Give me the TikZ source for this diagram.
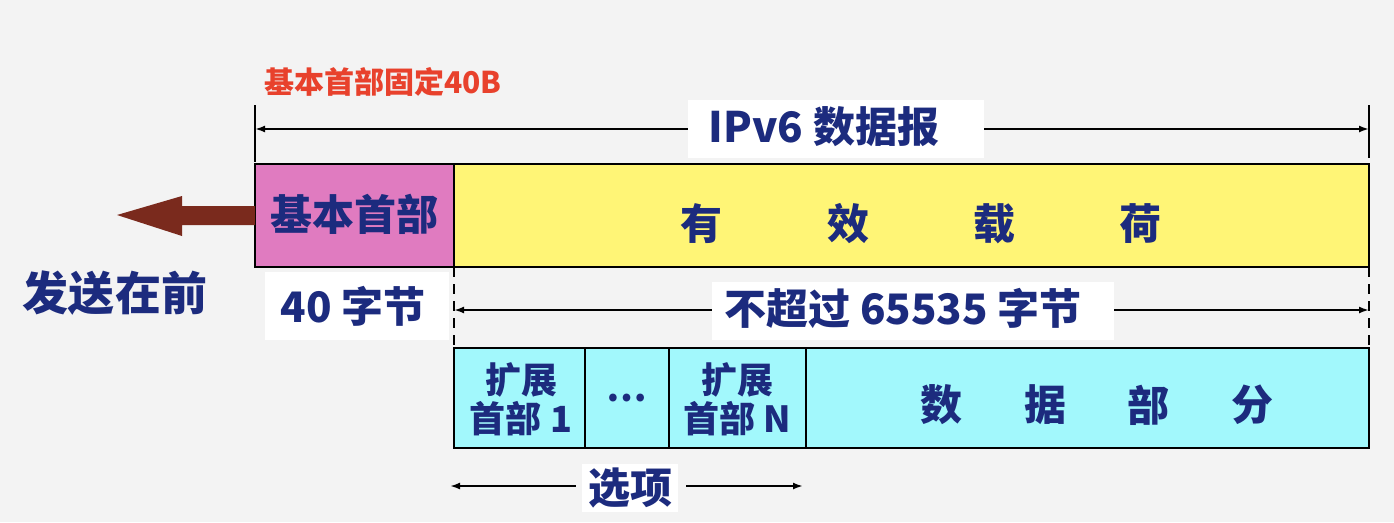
\documentclass[tikz,border=0pt]{standalone}
\usepackage{fontspec}
\newfontfamily\cjk{Noto Sans CJK SC}
\usetikzlibrary{arrows.meta}
\definecolor{bgc}{HTML}{F3F3F3}
\definecolor{ink}{HTML}{1C2B7E}
\definecolor{redt}{HTML}{E8412C}
\definecolor{pinkc}{HTML}{E07BC0}
\definecolor{yelc}{HTML}{FFF576}
\definecolor{cyanc}{HTML}{A2F8FC}
\definecolor{brownc}{HTML}{7A2A1D}
\tikzset{
  cell/.style={draw=black, line width=2pt, inner sep=0pt, outer sep=0pt},
  thincell/.style={draw=black, line width=1.3pt, inner sep=0pt, outer sep=0pt, fill=cyanc},
  bluetxt/.style={text=ink, font=\cjk\bfseries\fontsize{42}{48}\selectfont, inner sep=0pt},
  midtxt/.style={text=ink, font=\cjk\bfseries\fontsize{36}{39}\selectfont, inner sep=0pt, align=center},
  whitelabel/.style={fill=white, inner sep=0pt},
  dimline/.style={line width=2.2pt, {Latex[length=10pt,width=7pt]}-{Latex[length=10pt,width=7pt]}},
  oneway/.style={line width=2.2pt, -{Latex[length=10pt,width=7pt]}},
  tick/.style={line width=2.4pt},
  dashtick/.style={line width=2.4pt, dash pattern=on 10pt off 7pt},
}
\begin{document}
\begin{tikzpicture}[x=1pt,y=-1pt]
\fill[bgc] (0,0) rectangle (1394,522);
\useasboundingbox (0,0) rectangle (1394,522);

% red heading
\node[text=redt, font=\cjk\bfseries\fontsize{30}{34}\selectfont, inner sep=0pt] (head) at (383,82) {基本首部固定40B};

% top dimension
\coordinate (tl1) at (255,105); \coordinate (tl2) at (255,162);
\coordinate (tr1) at (1369,105); \coordinate (tr2) at (1369,158);
\coordinate (al) at (255,129); \coordinate (ar) at (1369,129);
\draw[tick] (tl1) -- (tl2);
\draw[tick] (tr1) -- (tr2);
\draw[dimline] (al) -- (ar);
\node[whitelabel, minimum width=296pt, minimum height=58pt] (ipv6lab) at (836,129) {};
\node[bluetxt] (ipv6) at (824,127) {IPv6 数据报};

% main row
\node[cell, fill=pinkc, minimum width=199pt, minimum height=103pt] (basic) at (354.5,215.5) {};
\node[cell, fill=yelc, minimum width=915pt, minimum height=103pt] (payload) at (911.5,215.5) {};
\node[bluetxt] (basictxt) at (354.5,214) {基本首部};
\node[bluetxt] (p1) at (701,224) {有};
\node[bluetxt] (p2) at (848,224) {效};
\node[bluetxt] (p3) at (994,224) {载};
\node[bluetxt] (p4) at (1140,224) {荷};

% brown arrow
\coordinate (bstart) at (basic.west);
\fill[brownc] (bstart |- 0,206) -- (182,206) -- (182,196) -- (117,215) -- (182,236) -- (182,225) -- (bstart |- 0,225) -- cycle;

\node[text=ink, font=\cjk\bfseries\fontsize{46}{52}\selectfont, inner sep=0pt] (sendfirst) at (115,293) {发送在前};

% 40 bytes
\node[whitelabel, minimum width=184pt, minimum height=68pt] (fortybox) at (357,306) {};
\node[bluetxt] (forty) at (353,306) {40 字节};

% middle dimension
\coordinate (ml1) at (454,267); \coordinate (ml2) at (454,348);
\coordinate (mr1) at (1369,267); \coordinate (mr2) at (1369,348);
\draw[dashtick] (ml1) -- (ml2);
\draw[dashtick] (mr1) -- (mr2);
\coordinate (bl) at (454,310); \coordinate (br) at (1369,310);
\draw[dimline] (bl) -- (br);
\node[whitelabel, minimum width=402pt, minimum height=58pt] (maxlab) at (913,311) {};
\node[bluetxt] (maxtxt) at (903,308) {不超过 65535 字节};

% cyan row
\node[thincell, minimum width=131pt, minimum height=100pt] (c1) at (519.5,398) {};
\node[thincell, minimum width=84pt, minimum height=100pt] (c2) at (627,398) {};
\node[thincell, minimum width=137pt, minimum height=100pt] (c3) at (737.5,398) {};
\node[thincell, minimum width=563pt, minimum height=100pt] (c4) at (1087.5,398) {};
\node[midtxt] (t1) at (521,399) {扩展\\首部 1};
\node[midtxt] (t2) at (627,398) {⋯};
\node[midtxt] (t3) at (737.5,399) {扩展\\首部 N};
\node[bluetxt] (d1) at (941,405) {数};
\node[bluetxt] (d2) at (1045,405) {据};
\node[bluetxt] (d3) at (1148,405) {部};
\node[bluetxt] (d4) at (1252,405) {分};

% options
\node[bluetxt, fill=white, inner xsep=6pt, inner ysep=4pt] (opt) at (630,488) {选项};
\coordinate (ol) at (450,486); \coordinate (or) at (803,486);
\draw[oneway] (opt.west |- ol) ++(-6,0) -- (ol);
\draw[oneway] (opt.east |- or) ++(8,0) -- (or);
\end{tikzpicture}
\end{document}
